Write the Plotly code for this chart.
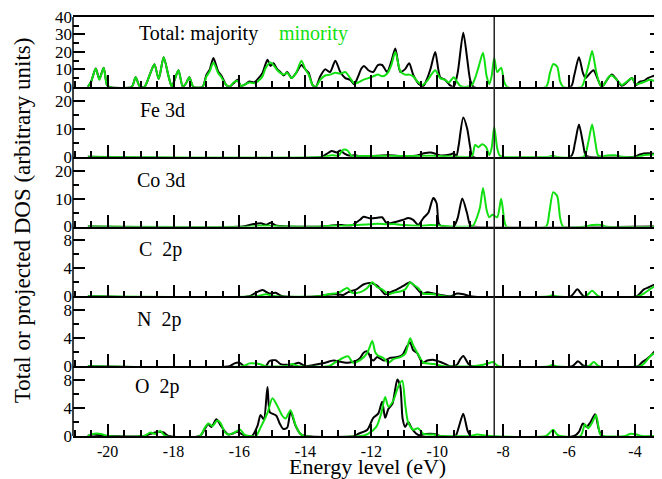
import plotly.graph_objects as go
from plotly.subplots import make_subplots

# ---------------- data (energy eV, DOS) ----------------
total_maj = [(-20.60,0),(-20.50,3),(-20.36,10.5),(-20.25,4.5),(-20.12,11),(-20.02,1),(-19.95,0),(-19.27,0),(-19.15,5.5),(-19.02,0),
             (-18.88,0),(-18.70,8),(-18.58,13),(-18.45,4.5),(-18.30,17),(-18.15,6),(-18.05,0),(-17.95,5),(-17.85,9.5),(-17.72,0),
             (-17.62,2),(-17.52,5.5),(-17.40,0),(-17.12,0),(-17.00,7),(-16.90,10),(-16.79,16.5),(-16.65,9),(-16.55,6.5),(-16.40,1),
             (-16.30,0),(-16.18,2),(-16.06,4),(-15.95,0.5),(-15.82,1.5),(-15.70,3),(-15.55,2.5),(-15.42,5),(-15.30,8),(-15.15,15.5),
             (-15.06,12),(-14.97,13.5),(-14.85,10),(-14.76,8.5),(-14.66,6.5),(-14.55,8.5),(-14.42,5),(-14.28,8),(-14.12,12.5),(-14.00,10),
             (-13.90,8),(-13.78,1),(-13.68,0),(-13.55,6),(-13.40,10),(-13.25,8.5),(-13.09,15),(-12.94,8.5),(-12.79,5),(-12.64,4),
             (-12.52,1.5),(-12.40,6),(-12.30,10.5),(-12.22,12),(-12.09,9.5),(-11.94,8.5),(-11.80,12.5),(-11.67,12.5),(-11.52,8.5),(-11.40,14),
             (-11.27,22),(-11.12,8.5),(-10.98,10),(-10.85,13.5),(-10.73,7),(-10.55,1.5),(-10.42,0.5),(-10.30,5),(-10.20,10.5),(-10.06,20),
             (-9.91,5.5),(-9.76,4),(-9.62,1),(-9.50,0),(-9.38,8),(-9.21,31),(-9.09,16),(-9.00,4),(-8.90,0),(-5.95,0),
             (-5.85,6),(-5.70,17),(-5.58,8),(-5.50,5),(-5.40,7),(-5.26,9.5),(-5.12,4),(-5.03,0.5),(-4.95,1),(-4.85,4),
             (-4.70,7),(-4.55,4),(-4.40,0.5),(-4.25,2.5),(-4.09,5),(-3.97,1),(-3.85,3),(-3.72,3.5),(-3.61,5),(-3.48,6),
             (-3.36,6.5),(-3.15,4)]
total_min = [(-20.60,0),(-20.50,3),(-20.36,10.5),(-20.25,4),(-20.12,11),(-20.02,1),(-19.95,0),(-19.27,0),(-19.15,5.5),(-19.02,0),
             (-18.88,0),(-18.70,8),(-18.58,13),(-18.45,4.5),(-18.30,17),(-18.15,6),(-18.05,0),(-17.95,5),(-17.85,9.5),(-17.72,0),
             (-17.62,2),(-17.52,5.5),(-17.40,0),(-17.12,0),(-17.00,6),(-16.90,9),(-16.79,14),(-16.65,8),(-16.55,5.5),(-16.40,1),
             (-16.30,0),(-16.18,2.5),(-16.06,3.5),(-15.95,0.5),(-15.82,1.5),(-15.70,2.5),(-15.55,2),(-15.42,3.5),(-15.30,6),(-15.20,11),
             (-15.06,14),(-14.95,12),(-14.85,9.5),(-14.76,8),(-14.66,7),(-14.55,8),(-14.42,5),(-14.28,8),(-14.12,15),(-14.00,10),
             (-13.90,7),(-13.78,1),(-13.68,0),(-13.55,4),(-13.40,6.5),(-13.25,7),(-13.09,8),(-12.94,7.5),(-12.79,8.5),(-12.64,5),
             (-12.52,2),(-12.40,2.5),(-12.25,4),(-12.09,5),(-11.94,6),(-11.80,7),(-11.67,6),(-11.52,7.5),(-11.40,12),(-11.27,20),
             (-11.12,9),(-10.98,7),(-10.85,7),(-10.73,6),(-10.60,3),(-10.45,1),(-10.30,3.5),(-10.18,7),(-10.06,9.5),(-9.91,5),
             (-9.76,4),(-9.65,2.5),(-9.50,5.5),(-9.40,3),(-9.30,0.5),(-9.10,0),(-8.95,1),(-8.85,5),(-8.75,11),(-8.61,19.5),
             (-8.50,6),(-8.42,1.5),(-8.35,6),(-8.27,16.5),(-8.18,8.5),(-8.06,11),(-7.97,3),(-7.88,0),(-6.70,0),(-6.58,8),
             (-6.48,13),(-6.36,11.5),(-6.27,3),(-6.18,0),(-5.62,0),(-5.50,6),(-5.40,13),(-5.30,20.5),(-5.18,9),(-5.08,2),
             (-5.00,0),(-4.90,2.5),(-4.78,6),(-4.70,6.5),(-4.55,4),(-4.40,1),(-4.25,3),(-4.09,5),(-3.97,1.5),(-3.85,2),
             (-3.70,3),(-3.55,4),(-3.42,3.5),(-3.30,5),(-3.15,3)]

fe_maj = [(-20.60,0),(-13.50,0),(-13.35,1.0),(-13.20,2.0),(-13.05,1.5),(-12.94,2.2),(-12.80,1.0),(-12.65,0.3),(-12.50,0.5),(-12.35,0.2),
          (-11.80,0.3),(-11.50,0.5),(-11.00,0.2),(-10.60,0.4),(-10.40,1.2),(-10.20,1.5),(-10.05,1.0),(-9.90,0.4),(-9.60,0.8),(-9.50,1.2),
          (-9.42,0.2),(-9.35,4),(-9.21,14),(-9.09,10),(-9.00,3.5),(-8.92,0),(-5.95,0),(-5.82,5),(-5.70,11.5),(-5.58,5),
          (-5.50,0.5),(-5.40,0),(-4.00,0),(-3.85,0.8),(-3.60,1.2),(-3.40,1.0),(-3.15,1.2)]
fe_min = [(-20.60,0),(-13.40,0),(-13.20,0.5),(-13.00,0.3),(-12.85,2.5),(-12.72,2.2),(-12.60,0.3),(-12.40,0.2),(-11.50,0.3),(-10.80,0.2),
          (-10.20,0.3),(-9.90,0.2),(-9.00,0),(-8.93,0.5),(-8.85,4.2),(-8.75,3.4),(-8.64,4.4),(-8.52,3.5),(-8.42,0.6),(-8.35,3),
          (-8.27,10.6),(-8.18,3),(-8.10,0.3),(-8.00,0),(-6.60,0),(-6.50,0.3),(-6.40,0),(-5.55,0),(-5.42,5),(-5.30,11.5),
          (-5.20,5),(-5.12,0.5),(-5.00,0),(-4.85,0.4),(-4.60,0.5),(-4.40,0),(-3.90,0),(-3.70,0.6),(-3.40,0.8),(-3.15,0.5)]

co_maj = [(-20.60,0),(-15.90,0),(-15.60,0.8),(-15.35,1.2),(-15.20,0.6),(-15.05,1.3),(-14.90,0.4),(-14.60,0),(-13.40,0),(-13.20,0.4),
          (-12.90,0.5),(-12.60,0.3),(-12.45,1.5),(-12.33,2.5),(-12.24,3.5),(-12.03,2.9),(-11.82,3.1),(-11.67,3.3),(-11.55,1.4),(-11.42,1.2),
          (-11.22,1.8),(-11.03,2.4),(-10.88,3.0),(-10.73,2.4),(-10.58,0.6),(-10.42,3.0),(-10.27,4.9),(-10.12,10.2),(-10.02,8.4),(-9.95,1.0),
          (-9.85,0),(-9.50,0),(-9.38,3),(-9.24,10),(-9.10,5),(-9.00,0.5),(-8.90,0),(-3.15,0)]
co_min = [(-20.60,0),(-15.60,0),(-15.40,0.3),(-15.00,0.2),(-14.50,0),(-13.50,0),(-13.20,0.3),(-12.90,0.2),(-12.60,0.5),(-12.30,0.6),
          (-12.00,0.8),(-11.80,1.0),(-11.55,0.8),(-11.30,0.9),(-11.10,0.6),(-10.80,0.4),(-10.50,0.3),(-10.20,0.5),(-9.90,0.3),(-9.60,0),
          (-9.00,0),(-8.90,0.5),(-8.79,3.4),(-8.70,7),(-8.61,13.8),(-8.50,5.9),(-8.42,3.3),(-8.33,4.2),(-8.18,3.3),(-8.06,9.9),
          (-7.96,1.9),(-7.90,0),(-6.70,0),(-6.60,5),(-6.48,12.3),(-6.36,10.9),(-6.27,3),(-6.18,0),(-5.50,0),(-5.30,0.5),
          (-5.00,0.5),(-4.90,0),(-3.15,0)]

c_maj = [(-20.60,0),(-15.70,0),(-15.55,0.4),(-15.30,0.9),(-15.10,0.4),(-14.90,0.5),(-14.70,0),(-13.60,0),(-13.40,0.2),(-13.10,0.3),
         (-12.85,0.2),(-12.70,0.6),(-12.58,0.8),(-12.45,1.0),(-12.24,1.7),(-12.03,1.9),(-11.85,1.6),(-11.75,1.2),(-11.58,0.3),(-11.42,0.6),
         (-11.22,1.0),(-11.03,1.5),(-10.82,2.0),(-10.67,1.4),(-10.52,0.6),(-10.42,0.4),(-10.30,0.6),(-10.12,0.4),(-9.90,0.2),(-9.60,0),
         (-9.40,0.4),(-9.20,0.3),(-9.00,0),(-5.95,0),(-5.75,1.0),(-5.55,0),(-3.95,0),(-3.85,0.4),(-3.73,1.0),(-3.58,1.3),
         (-3.39,1.7),(-3.28,1.0),(-3.15,0.8)]
c_min = [(-20.60,0),(-15.50,0),(-15.20,0.3),(-14.90,0),(-13.60,0),(-13.30,0.3),(-13.00,0.5),(-12.73,1.2),(-12.58,0.5),(-12.33,0.6),
         (-12.12,1.2),(-11.97,2.0),(-11.82,1.3),(-11.67,1.0),(-11.48,0.3),(-11.33,0.5),(-11.12,0.7),(-10.97,1.0),(-10.82,2.0),(-10.73,1.7),
         (-10.58,1.2),(-10.42,0.4),(-10.10,0.3),(-9.80,0),(-6.60,0),(-6.50,0.2),(-6.40,0),(-5.50,0),(-5.30,0.8),(-5.10,0),
         (-3.90,0),(-3.73,0.4),(-3.55,1.0),(-3.36,1.5),(-3.20,0.8),(-3.15,0.6)]

n_maj = [(-20.60,0),(-16.30,0),(-16.15,0.4),(-16.00,0.5),(-15.85,0),(-15.20,0),(-15.10,0.7),(-14.90,0.85),(-14.75,0.3),(-14.40,0.2),
         (-14.20,0.5),(-14.00,0),(-13.60,0.3),(-13.40,0.5),(-13.15,0.8),(-12.90,0.6),(-12.70,0.5),(-12.45,0.8),(-12.33,1.2),(-12.24,1.9),
         (-12.12,2.1),(-12.00,1.0),(-11.94,0.8),(-11.82,1.3),(-11.62,0.8),(-11.42,1.2),(-11.21,1.3),(-11.06,1.6),(-10.91,2.9),(-10.82,3.4),
         (-10.73,2.3),(-10.61,1.9),(-10.45,0.5),(-10.30,0.8),(-10.10,0.9),(-9.90,0.6),(-9.60,0),(-9.40,0.2),(-9.30,1.0),(-9.21,1.45),
         (-9.05,0.3),(-8.95,0),(-5.90,0),(-5.73,0.7),(-5.58,0.1),(-5.50,0),(-3.90,0),(-3.80,0.5),(-3.65,1.0),(-3.50,1.6),
         (-3.36,2.3),(-3.25,1.6),(-3.15,1.2)]
n_min = [(-20.60,0),(-15.90,0),(-15.70,0.4),(-15.40,0.3),(-15.20,0),(-14.60,0),(-14.40,0.3),(-14.20,0),(-13.30,0),(-13.10,0.5),
         (-12.85,1.2),(-12.70,1.4),(-12.55,0.5),(-12.33,0.9),(-12.12,1.9),(-11.97,3.6),(-11.88,2.0),(-11.79,1.5),(-11.64,1.2),(-11.48,0.5),
         (-11.33,1.0),(-11.12,1.3),(-10.97,1.8),(-10.82,4.0),(-10.73,3.0),(-10.58,1.7),(-10.42,0.5),(-10.10,0.3),(-9.80,0),(-8.90,0),
         (-8.60,0.2),(-8.40,0.5),(-8.30,0.6),(-8.15,0),(-6.60,0),(-6.50,0.2),(-6.40,0),(-5.40,0),(-5.25,0.6),(-5.10,0),
         (-3.85,0),(-3.70,0.5),(-3.50,1.6),(-3.33,1.9),(-3.15,1.4)]

o_maj = [(-20.60,0),(-20.45,0.2),(-20.20,0.1),(-19.90,0),(-18.90,0),(-18.70,0.3),(-18.45,0.6),(-18.30,0.5),(-18.15,0),(-17.20,0),
         (-17.05,1.0),(-16.95,1.7),(-16.85,1.3),(-16.70,2.4),(-16.58,1.6),(-16.45,0.7),(-16.33,0.2),(-16.18,0.4),(-16.06,0.6),(-15.94,0.3),
         (-15.82,0),(-15.62,0),(-15.45,1.5),(-15.36,3.0),(-15.26,2.4),(-15.15,7.0),(-15.08,3.4),(-15.00,3.2),(-14.88,2.9),(-14.78,1.8),
         (-14.67,1.0),(-14.55,1.2),(-14.45,3.5),(-14.30,1.5),(-14.15,0.3),(-14.00,0),(-12.50,0),(-12.40,0.3),(-12.12,0.9),(-11.94,2.6),
         (-11.79,3.2),(-11.67,4.9),(-11.58,2.6),(-11.48,3.9),(-11.36,4.6),(-11.21,8.1),(-11.12,7.1),(-11.05,2.5),(-10.97,1.3),(-10.88,2.0),
         (-10.76,1.0),(-10.55,0.1),(-10.35,0.3),(-10.10,0.3),(-9.90,0),(-9.45,0),(-9.35,1.2),(-9.21,3.2),(-9.08,0.8),(-8.98,0),
         (-5.85,0),(-5.70,0.6),(-5.58,1.8),(-5.47,1.3),(-5.36,1.9),(-5.21,3.1),(-5.10,1.0),(-5.00,0),(-3.15,0)]
o_min = [(-20.60,0),(-20.45,0.3),(-20.20,0.3),(-20.00,0),(-18.90,0),(-18.70,0.5),(-18.55,0.3),(-18.40,0.7),(-18.25,0),(-17.20,0),
         (-17.05,1.2),(-16.94,1.8),(-16.82,1.4),(-16.68,2.2),(-16.58,1.9),(-16.45,0.6),(-16.33,0.2),(-16.15,0.5),(-15.98,0.9),(-15.85,0.2),
         (-15.70,0),(-15.50,0),(-15.36,1.2),(-15.15,3.3),(-15.00,5.4),(-14.85,4.3),(-14.70,2.9),(-14.60,2.5),(-14.45,3.7),(-14.30,1.6),
         (-14.18,0.5),(-14.05,0),(-12.30,0),(-12.10,0.3),(-11.85,1.3),(-11.70,3.2),(-11.58,5.6),(-11.48,4.2),(-11.33,5.1),(-11.18,7.1),
         (-11.06,7.9),(-10.97,4.5),(-10.88,1.9),(-10.73,0.9),(-10.58,1.1),(-10.42,0.3),(-10.10,0.2),(-9.90,0),(-9.00,0),(-8.80,0.2),
         (-8.60,0.1),(-8.40,0),(-6.70,0),(-6.58,0.5),(-6.48,0.9),(-6.36,0.2),(-6.27,0),(-5.65,0),(-5.52,1.7),(-5.42,1.1),
         (-5.30,1.9),(-5.18,3.0),(-5.06,0.3),(-4.97,0),(-4.30,0),(-4.15,0.3),(-3.95,0.2),(-3.80,0),(-3.15,0)]

panel_labels = ["Total: majority", "Fe 3d", "Co 3d", "C\u00a0\u00a02p", "N\u00a0\u00a02p", "O\u00a0\u00a02p"]
y_ranges = [[0, 40], [0, 25], [0, 25], [0, 10], [0, 10], [0, 10]]
y_dticks = [10, 10, 10, 4, 4, 4]
x_tick_vals = [-20, -18, -16, -14, -12, -10, -8, -6, -4]
x_tick_text = ["-20", "-18", "-16", "-14", "-12", "-10", "-8", "-6", "-4"]
x_range = [-21.05, -3.18]
fermi_level = -8.27

series = [(total_maj, total_min), (fe_maj, fe_min), (co_maj, co_min),
          (c_maj, c_min), (n_maj, n_min), (o_maj, o_min)]

BLACK = "#000000"
GREEN = "#10e010"
FONT = "Liberation Serif"

fig = make_subplots(rows=6, cols=1, shared_xaxes=True, vertical_spacing=0)

for i, (maj, mino) in enumerate(series):
    r = i + 1
    for data, col in ((maj, BLACK), (mino, GREEN)):
        xs = [p[0] for p in data]
        ys = [p[1] for p in data]
        fig.add_trace(go.Scatter(x=xs, y=ys, mode="lines",
                                 line=dict(color=col, width=2, shape="spline", smoothing=0.7),
                                 showlegend=False, hoverinfo="skip"), row=r, col=1)

n = 6
for i in range(n):
    r = i + 1
    dom = [1 - (i + 1) / n, 1 - i / n]
    fig.update_yaxes(row=r, col=1, domain=dom, range=y_ranges[i], dtick=y_dticks[i], tick0=0,
                     showline=False, mirror="ticks", ticks="inside", ticklen=12, tickwidth=1.5,
                     tickcolor=BLACK, showgrid=False, zeroline=False, automargin=False,
                     ticklabeloverflow="allow",
                     tickfont=dict(family=FONT, size=17, color=BLACK),
                     minor=dict(dtick=y_dticks[i] / 2, tick0=0, ticks="inside", ticklen=6,
                                tickwidth=1.5, tickcolor=BLACK, showgrid=False))
    fig.update_xaxes(row=r, col=1, range=x_range, tickmode="array", tickvals=x_tick_vals,
                     ticktext=x_tick_text, showticklabels=(r == n), automargin=False,
                     ticklabeloverflow="allow",
                     showline=True, linecolor=BLACK, linewidth=1.5, mirror=(r == 1),
                     ticks="inside", ticklen=12, tickwidth=1.5, tickcolor=BLACK,
                     showgrid=False, zeroline=False,
                     tickfont=dict(family=FONT, size=16, color=BLACK),
                     minor=dict(tickmode="linear", tick0=-20, dtick=0.5, ticks="inside", ticklen=6,
                                tickwidth=1.5, tickcolor=BLACK, showgrid=False))

# left border and Fermi level line
fig.add_shape(type="line", xref="paper", yref="paper", x0=0, x1=0, y0=0, y1=1,
              line=dict(color=BLACK, width=1.5))
fig.add_shape(type="line", xref="x6", yref="paper", x0=fermi_level, x1=fermi_level, y0=0, y1=1,
              line=dict(color="#222222", width=1.5))

label_x = [0.109, 0.110, 0.105, 0.109, 0.105, 0.102]
label_y = [0.960, 0.778, 0.611, 0.444, 0.277, 0.119]
for i, txt in enumerate(panel_labels):
    fig.add_annotation(text=txt, xref="paper", yref="paper", x=label_x[i], y=label_y[i],
                       xanchor="left", yanchor="middle", showarrow=False,
                       font=dict(family=FONT, size=20, color=BLACK))
fig.add_annotation(text="minority", xref="paper", yref="paper", x=0.3463, y=0.960,
                   xanchor="left", yanchor="middle", showarrow=False,
                   font=dict(family=FONT, size=20, color=GREEN))

fig.add_annotation(text="Energy level (eV)", xref="paper", yref="paper", x=0.5008, y=-0.072,
                   xanchor="center", yanchor="middle", showarrow=False,
                   font=dict(family=FONT, size=22, color=BLACK))
fig.add_annotation(text="Total or projected DOS (arbitrary units)", xref="paper", yref="paper",
                   x=-0.0866, y=0.515, xanchor="center", yanchor="middle", textangle=-90,
                   showarrow=False, font=dict(family=FONT, size=23, color=BLACK))

# the page body adds an 8 px offset, so the figure is sized to end at the window edge
fig.update_layout(width=654, height=471, margin=dict(l=65, r=0, t=9, b=43, autoexpand=False),
                  paper_bgcolor="white", plot_bgcolor="white", showlegend=False)

fig.write_html("out.html")
